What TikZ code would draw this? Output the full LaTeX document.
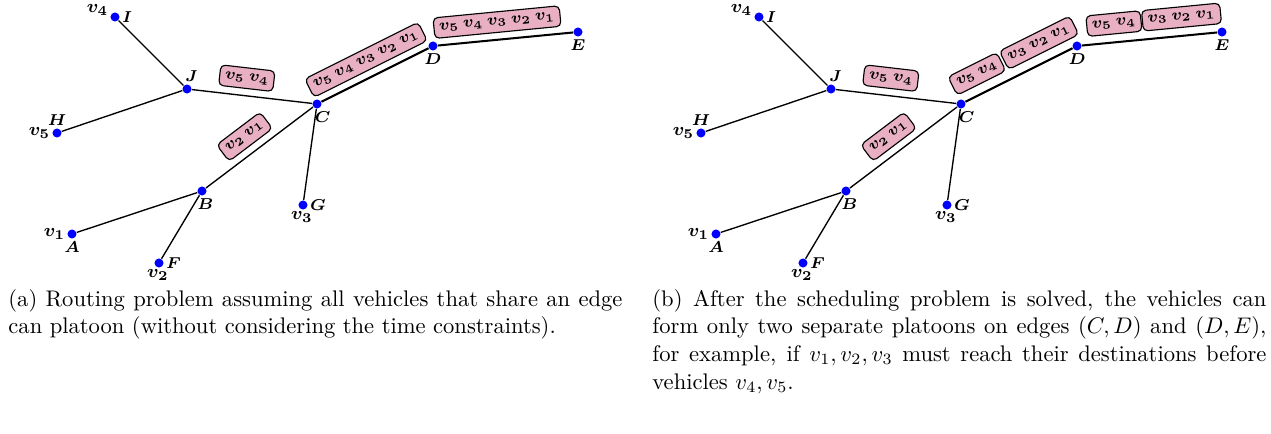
\documentclass[tikz,border=0pt]{standalone}
\usepackage{amsmath,bm}
\definecolor{platpink}{RGB}{233,176,196}

\begin{document}
\begin{tikzpicture}[x=0.443pt, y=-0.443pt,
    dot/.style={circle, fill=blue, inner sep=0pt, minimum size=4pt},
    lbl/.style={font=\scriptsize, inner sep=0.8pt},
    veh/.style={font=\footnotesize, inner sep=0.6pt},
    road/.style={line width=0.6pt},
    shared/.style={line width=0.9pt},
    plat/.style={draw, fill=platpink, rounded corners=2pt, inner xsep=2.3pt, inner ysep=2.5pt, line width=0.5pt, font=\scriptsize},
    captext/.style={anchor=north west, inner sep=0pt, text width=272pt, align=justify, font=\fontsize{10}{12.2}\selectfont}
]
\useasboundingbox (0,0) rectangle (1271,434);

% (a) routing problem
\node[dot, label={[veh, yshift=3pt]left:$\bm{v_4}$}, label={[lbl]right:$\bm{I}$}] (aI) at (115,17) {};
\node[dot, label={[lbl, xshift=2pt]above:$\bm{J}$}] (aJ) at (187,89) {};
\node[dot, label={[veh]left:$\bm{v_5}$}, label={[lbl]above:$\bm{H}$}] (aH) at (57,133) {};
\node[dot, label={[lbl, xshift=2.5pt]below:$\bm{C}$}] (aC) at (317,104) {};
\node[dot, label={[lbl]below:$\bm{D}$}] (aD) at (433,46) {};
\node[dot, label={[lbl]below:$\bm{E}$}] (aE) at (578,32) {};
\node[dot, label={[lbl, xshift=1.5pt]below:$\bm{B}$}] (aB) at (202,191) {};
\node[dot, label={[veh]left:$\bm{v_1}$}, label={[lbl]below:$\bm{A}$}] (aA) at (72,234) {};
\node[dot, label={[lbl]right:$\bm{F}$}, label={[veh, xshift=-0.5pt]below:$\bm{v_2}$}] (aF) at (159,263) {};
\node[dot, label={[lbl]right:$\bm{G}$}, label={[veh, xshift=-0.5pt]below:$\bm{v_3}$}] (aG) at (303,205) {};

\draw[road] (aI) -- (aJ);
\draw[road] (aH) -- (aJ);
\draw[road] (aJ) -- (aC) node[plat, sloped, above=3pt, pos=0.44] {$\bm{v_5}\:\bm{v_4}$};
\draw[road] (aA) -- (aB);
\draw[road] (aF) -- (aB);
\draw[road] (aB) -- (aC) node[plat, sloped, above=3pt, pos=0.46] {$\bm{v_2}\:\bm{v_1}$};
\draw[road] (aG) -- (aC);
\draw[shared] (aC) -- (aD) node[plat, sloped, above=3pt, pos=0.49] {$\bm{v_5}\:\bm{v_4}\:\bm{v_3}\:\bm{v_2}\:\bm{v_1}$};
\draw[shared] (aD) -- (aE) node[plat, sloped, above=3pt, pos=0.45] {$\bm{v_5}\:\bm{v_4}\:\bm{v_3}\:\bm{v_2}\:\bm{v_1}$};

\node[captext] (capa) at (8,289) {(a) Routing problem assuming all vehicles that share an edge can platoon (without considering the time constraints).};

% (b) after scheduling
\begin{scope}[shift={(644,0)}]
\node[dot, label={[veh, yshift=3pt]left:$\bm{v_4}$}, label={[lbl]right:$\bm{I}$}] (bI) at (115,17) {};
\node[dot, label={[lbl, xshift=2pt]above:$\bm{J}$}] (bJ) at (187,89) {};
\node[dot, label={[veh]left:$\bm{v_5}$}, label={[lbl]above:$\bm{H}$}] (bH) at (57,133) {};
\node[dot, label={[lbl, xshift=2.5pt]below:$\bm{C}$}] (bC) at (317,104) {};
\node[dot, label={[lbl]below:$\bm{D}$}] (bD) at (433,46) {};
\node[dot, label={[lbl]below:$\bm{E}$}] (bE) at (578,32) {};
\node[dot, label={[lbl, xshift=1.5pt]below:$\bm{B}$}] (bB) at (202,191) {};
\node[dot, label={[veh]left:$\bm{v_1}$}, label={[lbl]below:$\bm{A}$}] (bA) at (72,234) {};
\node[dot, label={[lbl]right:$\bm{F}$}, label={[veh, xshift=-0.5pt]below:$\bm{v_2}$}] (bF) at (159,263) {};
\node[dot, label={[lbl]right:$\bm{G}$}, label={[veh, xshift=-0.5pt]below:$\bm{v_3}$}] (bG) at (303,205) {};

\draw[road] (bI) -- (bJ);
\draw[road] (bH) -- (bJ);
\draw[road] (bJ) -- (bC) node[plat, sloped, above=3pt, pos=0.44] {$\bm{v_5}\:\bm{v_4}$};
\draw[road] (bA) -- (bB);
\draw[road] (bF) -- (bB);
\draw[road] (bB) -- (bC) node[plat, sloped, above=3pt, pos=0.46] {$\bm{v_2}\:\bm{v_1}$};
\draw[road] (bG) -- (bC);
\draw[shared] (bC) -- (bD)
  node[plat, sloped, above=4pt, pos=0.19] {$\bm{v_5}\:\bm{v_4}$}
  node[plat, sloped, above=4pt, pos=0.77] {$\bm{v_3}\:\bm{v_2}\:\bm{v_1}$};
\draw[shared] (bD) -- (bE)
  node[plat, sloped, above=3.5pt, pos=0.25] {$\bm{v_5}\:\bm{v_4}$}
  node[plat, sloped, above=3.5pt, pos=0.75] {$\bm{v_3}\:\bm{v_2}\:\bm{v_1}$};

\node[captext] (capb) at (8,289) {(b) After the scheduling problem is solved, the vehicles can form only two separate platoons on edges $(C,D)$ and $(D,E)$, for example, if $v_1,v_2,v_3$ must reach their destinations before vehicles $v_4,v_5$.};
\end{scope}
\end{tikzpicture}
\end{document}
